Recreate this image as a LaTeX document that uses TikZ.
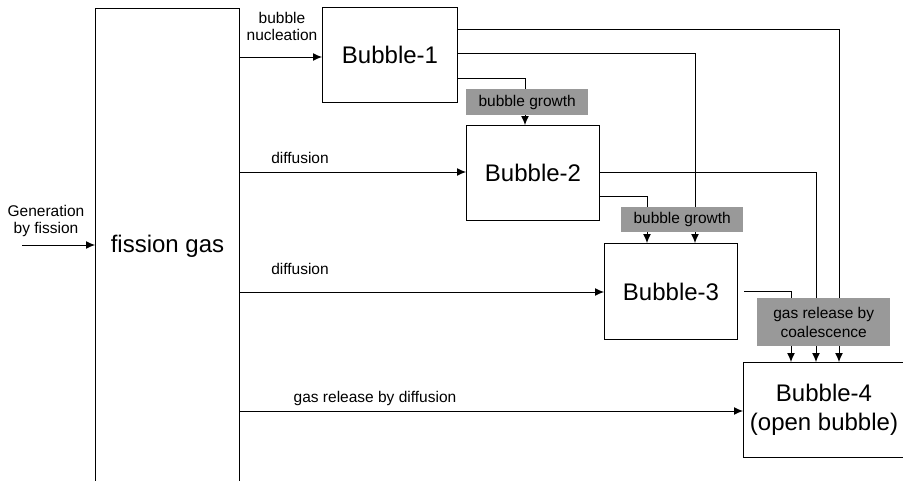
\documentclass[tikz,border=0pt]{standalone}
\usepackage{fontspec}
\setmainfont{Liberation Sans}
\usetikzlibrary{arrows.meta,calc}
\begin{document}
\begin{tikzpicture}[x=1pt,y=-1pt,
  box/.style={draw,line width=1pt,inner sep=0pt,anchor=north west,
    font=\fontsize{24}{29}\selectfont,align=center},
  sz/.style 2 args={minimum width=#1pt,minimum height=#2pt},
  gbox/.style={fill=black!40,inner sep=0pt,anchor=north west,
    font=\fontsize{15.5}{19}\selectfont,align=center},
  lbl/.style={font=\fontsize{15.5}{17}\selectfont,align=center,inner sep=0pt},
  con/.style={line width=1pt},
  arr/.style={con,-{Latex[length=9pt,width=8pt]}}]
\useasboundingbox (0,0) rectangle (903,480);
\clip (0,0) rectangle (903,480);
\fill[white] (0,0) rectangle (903,480);

% boxes
\node[box,sz={144}{476}] (fg) at (95,8) {fission gas};
\node[box,sz={135}{95}] (b1) at (322,7) {Bubble-1};
\node[box,sz={133}{95}] (b2) at (466,125) {Bubble-2};
\node[box,sz={133}{96}] (b3) at (604,243) {Bubble-3};
\node[box,sz={161}{95}] (b4) at (743,362) {Bubble-4\\(open bubble)};

% input
\coordinate (gen) at (22,245);
\draw[arr] (gen) -- (fg.west |- gen);
\node[lbl] (genl) at (46,221) {Generation\\by fission};

% from fission gas
\draw[arr] (fg.east |- 0,57) -- (b1.west |- 0,57);
\draw[arr] (fg.east |- 0,172) -- (b2.west |- 0,172);
\draw[arr] (fg.east |- 0,292) -- (b3.west |- 0,292);
\draw[arr] (fg.east |- 0,411) -- (b4.west |- 0,411);
\node[lbl] (l1) at (282,26) {bubble\\nucleation};
\node[lbl] (l2) at (300,158) {diffusion};
\node[lbl] (l3) at (300,269) {diffusion};
\node[lbl] (l4) at (375,398) {gas release by diffusion};

% bubble links
\draw[arr] (b1.east |- 0,78) -| ($(b2.north west)+(59,0)$);
\draw[arr] (b1.east |- 0,53) -| ($(b3.north west)+(91,0)$);
\draw[arr] (b1.east |- 0,29) -| ($(b4.north west)+(96,0)$);
\draw[arr] (b2.east |- 0,172) -| ($(b4.north west)+(73,0)$);
\draw[arr] (b2.east |- 0,196) -| ($(b3.north west)+(43,0)$);
\coordinate (b3o) at ($(b3.east |- 0,291)+(6,0)$);
\draw[arr] (b3o) -| ($(b4.north west)+(48,0)$);

% gray labels
\node[gbox,sz={122}{26}] (g1) at (466,89) {bubble growth};
\node[gbox,sz={122}{25}] (g2) at (621,207) {bubble growth};
\node[gbox,sz={133}{48}] (g3) at (757,298) {gas release by\\coalescence};
\end{tikzpicture}
\end{document}
